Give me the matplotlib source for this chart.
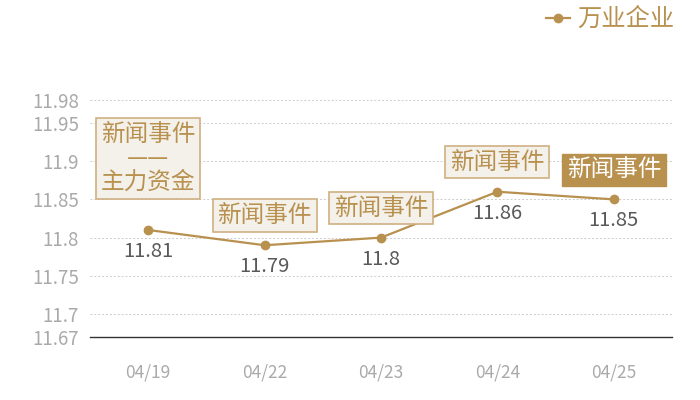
import matplotlib
matplotlib.use("Agg")
import matplotlib.pyplot as plt
from matplotlib.lines import Line2D

plt.rcParams['font.family'] = ['Noto Sans CJK SC', 'DejaVu Sans']

dates = ["04/19", "04/22", "04/23", "04/24", "04/25"]
values = [11.81, 11.79, 11.80, 11.86, 11.85]
value_labels = ["11.81", "11.79", "11.8", "11.86", "11.85"]
events = ["新闻事件\n——\n主力资金", "新闻事件", "新闻事件", "新闻事件", "新闻事件"]
highlight = [False, False, False, False, True]
yticks = [11.67, 11.7, 11.75, 11.8, 11.85, 11.9, 11.95, 11.98]
ytick_labels = ["11.67", "11.7", "11.75", "11.8", "11.85", "11.9", "11.95", "11.98"]
series_name = "万业企业"

GOLD = "#b8914f"
BOX_FACE = "#f4f0ea"
BOX_EDGE = "#cfb083"

fig = plt.figure(figsize=(7, 4), dpi=100)
ax = fig.add_axes([90/700, 63/400, 582/700, 237/400])

x = list(range(len(dates)))
ax.plot(x, values, color=GOLD, lw=1.6, marker='o', ms=6, zorder=3)
ax.set_xlim(-0.5, len(dates) - 0.5)
ax.set_ylim(11.67, 11.98)

ax.set_yticks(yticks)
ax.set_yticklabels(ytick_labels)
ax.set_xticks(x)
ax.set_xticklabels(dates)
ax.tick_params(axis='y', length=0, pad=8, labelsize=13.5, labelcolor="#aaaaaa")
ax.tick_params(axis='x', length=0, pad=19, labelsize=12.5, labelcolor="#aaaaaa")

for s in ['top', 'right', 'left']:
    ax.spines[s].set_visible(False)
ax.spines['bottom'].set_color('#333333')
ax.spines['bottom'].set_linewidth(1.0)

ax.grid(axis='y', linestyle=(0, (2, 2)), color='#cccccc', lw=0.7)
ax.set_axisbelow(True)

for i, (v, lab, ev, hl) in enumerate(zip(values, value_labels, events, highlight)):
    ax.annotate(lab, (i, v), xytext=(0, -8), textcoords='offset points',
                ha='center', va='top', fontsize=14.5, color='#595959')
    off = 26 if '\n' in ev else 13
    if hl:
        bbox = dict(boxstyle='square,pad=0.2', fc=GOLD, ec=GOLD, lw=1)
        tc = 'white'
    else:
        bbox = dict(boxstyle='square,pad=0.2', fc=BOX_FACE, ec=BOX_EDGE, lw=1.2)
        tc = GOLD
    ax.annotate(ev, (i, v), xytext=(0, off), textcoords='offset points',
                ha='center', va='bottom', fontsize=17, color=tc, bbox=bbox,
                linespacing=1.05, zorder=4)

# legend
fig.add_artist(Line2D([546/700, 570/700], [382/400, 382/400], color=GOLD, lw=1.6))
fig.add_artist(Line2D([558/700], [382/400], color=GOLD, marker='o', ms=6))
fig.text(577/700, 381/400, series_name, color=GOLD, fontsize=17.5, va='center', ha='left')

fig.savefig("out.png", dpi=100)
